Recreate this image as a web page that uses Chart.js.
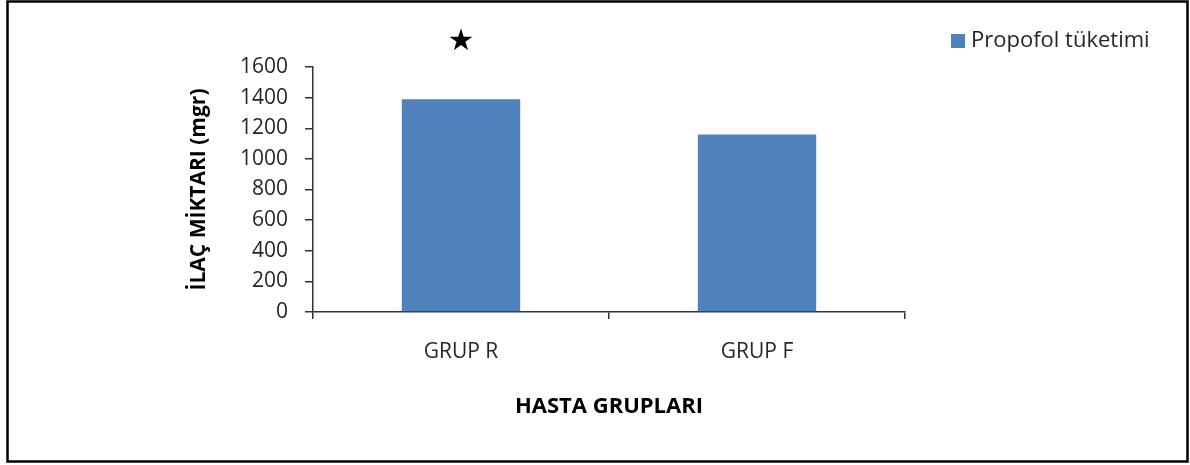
<!DOCTYPE html>
<html>
<head>
<meta charset="utf-8">
<script src="https://cdn.jsdelivr.net/npm/chart.js@4"></script>
<style>
  html, body { margin: 0; padding: 0; background: #fff; }
  #wrap { width: 1190px; height: 465px; }
</style>
</head>
<body>
<div id="wrap"><canvas id="ilacChart" width="1190" height="465"></canvas></div>
<script>
    // Données du graphique
    const gruplar = ['GRUP R', 'GRUP F'];
    const propofolTuketimi = [1390, 1160];
    const anlamlilik = ['★', ''];   // marqueur de différence significative
    const seriAdi = 'Propofol tüketimi';
    const eksenY = 'İLAÇ MİKTARI (mgr)';
    const eksenX = 'HASTA GRUPLARI';

    const barColor = '#4F81BD';
    const fontAile = "'Open Sans', sans-serif";
    const textColor = '#262626';
    const axisColor = '#333333';

    // Cadre extérieur, étoile au-dessus de la barre, légende à droite
    const decorPlugin = {
        id: 'decor',
        afterDraw(chart) {
            const ctx = chart.ctx;
            ctx.save();

            ctx.strokeStyle = '#000';
            ctx.lineWidth = 2.5;
            ctx.strokeRect(7.5, 1.5, 1180, 460);

            const meta = chart.getDatasetMeta(0);
            ctx.fillStyle = '#000';
            ctx.font = "30px 'DejaVu Sans'";
            ctx.textAlign = 'center';
            ctx.textBaseline = 'middle';
            meta.data.forEach((bar, i) => {
                if (anlamlilik[i]) {
                    ctx.fillText(anlamlilik[i], bar.x, bar.y - 57);
                }
            });

            const ds = chart.data.datasets[0];
            ctx.fillStyle = ds.backgroundColor;
            ctx.fillRect(951, 34, 14, 14);
            ctx.fillStyle = textColor;
            ctx.font = '22px ' + fontAile;
            ctx.textAlign = 'left';
            ctx.fillText(ds.label, 971, 41);

            ctx.restore();
        }
    };

    const ctx = document.getElementById('ilacChart').getContext('2d');
    new Chart(ctx, {
        type: 'bar',
        data: {
            labels: gruplar,
            datasets: [{
                label: seriAdi,
                data: propofolTuketimi,
                backgroundColor: barColor,
                borderWidth: 0,
                barPercentage: 0.4,
                categoryPercentage: 1.0
            }]
        },
        options: {
            responsive: false,
            animation: false,
            devicePixelRatio: 1,
            layout: {
                padding: { left: 184, right: 285, top: 67, bottom: 42 }
            },
            plugins: {
                legend: { display: false },
                tooltip: { enabled: false }
            },
            scales: {
                x: {
                    afterFit: (scale) => { scale.height = 111; },
                    grid: {
                        drawOnChartArea: false,
                        drawTicks: true,
                        tickLength: 7,
                        color: axisColor,
                        lineWidth: 1.5,
                        offset: true
                    },
                    border: { color: axisColor, width: 1.5 },
                    ticks: {
                        color: textColor,
                        padding: 20,
                        font: { family: fontAile, size: 21 }
                    },
                    title: {
                        display: true,
                        text: eksenX,
                        color: '#000',
                        padding: { top: 4, bottom: 3 },
                        font: { family: fontAile, size: 22, weight: 'bold' }
                    }
                },
                y: {
                    min: 0,
                    max: 1600,
                    afterFit: (scale) => { scale.width = 129; },
                    grid: {
                        drawOnChartArea: false,
                        drawTicks: true,
                        tickLength: 8,
                        color: axisColor,
                        lineWidth: 1.5
                    },
                    border: { color: axisColor, width: 1.5 },
                    ticks: {
                        stepSize: 200,
                        color: textColor,
                        padding: 17,
                        font: { family: fontAile, size: 21 },
                        callback: (v) => String(v)
                    },
                    title: {
                        display: true,
                        text: eksenY,
                        color: '#000',
                        padding: { top: 2, bottom: 4 },
                        font: { family: fontAile, size: 21, weight: 'bold' }
                    }
                }
            }
        },
        plugins: [decorPlugin]
    });
</script>
</body>
</html>
